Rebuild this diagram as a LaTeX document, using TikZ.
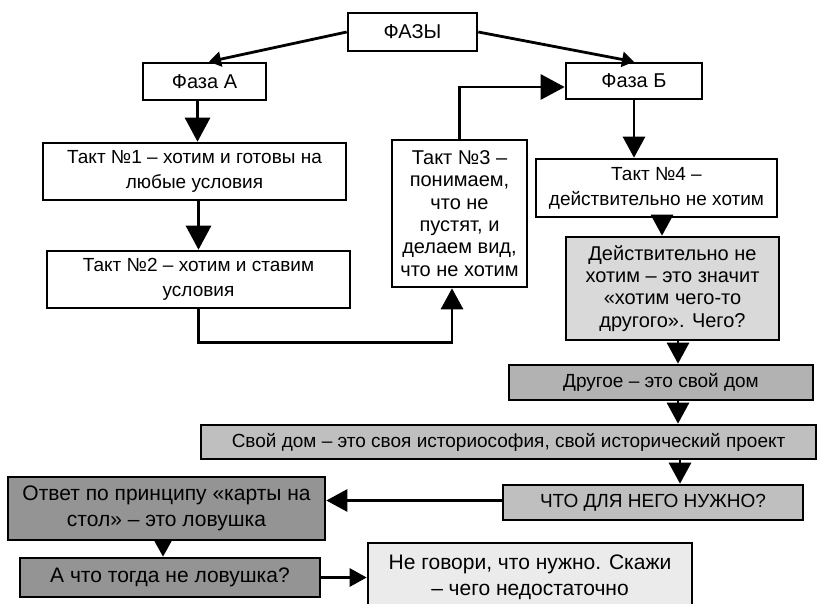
\documentclass[tikz,border=0pt]{standalone}
\usepackage{fontspec}
\setmainfont{Liberation Sans}
\usetikzlibrary{arrows.meta,calc}

\begin{document}
\begin{tikzpicture}[x=1pt,y=-1pt,
  box/.style={draw,line width=2.6pt,align=center,inner sep=0pt,
    font=\fontsize{19}{25}\selectfont},
  tight/.style={font=\fontsize{20}{22.3}\selectfont},
  large/.style={font=\fontsize{21}{26}\selectfont},
  phase/.style={font=\fontsize{20}{24}\selectfont},
  link/.style={line width=2.8pt},
  headbig/.style={link,-{Triangle[width=25pt,length=24pt]}},
  headmid/.style={link,-{Triangle[width=22pt,length=21pt]}},
  headsmall/.style={link,-{Triangle[width=18pt,length=17pt]}},
  headtiny/.style={link,-{Triangle[width=15pt,length=12pt]}},
]
\useasboundingbox (0,0) rectangle (818,604);

% phases
\node[box,phase,fill=white,minimum width=129pt,minimum height=38pt] (fazy) at (412.5,32) {ФАЗЫ};
\node[box,phase,fill=white,minimum width=123pt,minimum height=37pt] (fazaA) at (204.5,81.5) {Фаза А};
\node[box,phase,fill=white,minimum width=136pt,minimum height=36pt] (fazaB) at (634,81) {Фаза Б};

% stages
\node[box,fill=white,minimum width=303pt,minimum height=57pt] (takt1) at (194.5,171.5)
  {Такт №1 – хотим и готовы на\\любые условия};
\node[box,fill=white,minimum width=303pt,minimum height=57pt] (takt2) at (198.5,279.5)
  {Такт №2 – хотим и ставим\\условия};
\node[box,tight,fill=white,minimum width=135pt,minimum height=147pt] (takt3) at (459.5,213.5)
  {Такт №3 –\\понимаем,\\что не\\пустят, и\\делаем вид,\\что не хотим};
\node[box,fill=white,minimum width=241pt,minimum height=58pt] (takt4) at (656.5,188)
  {Такт №4 –\\действительно не хотим};

% chain below stage 4
\node[box,tight,fill=black!15,minimum width=213pt,minimum height=103pt] (deistv) at (672.5,288.5)
  {Действительно не\\хотим – это значит\\«хотим чего-то\\другого». Чего?};
\node[box,fill=black!30,minimum width=304pt,minimum height=35pt] (drugoe) at (661,382.5)
  {Другое – это свой дом};
\node[box,fill=black!25,minimum width=615pt,minimum height=34pt] (svoidom) at (508.5,442)
  {Свой дом – это своя историософия, свой исторический проект};
\node[box,fill=black!25,minimum width=300pt,minimum height=35pt] (chto) at (653,502.5)
  {ЧТО ДЛЯ НЕГО НУЖНО?};
\node[box,large,fill=black!42,minimum width=317pt,minimum height=63pt] (otvet) at (166.5,508.5)
  {Ответ по принципу «карты на\\стол» – это ловушка};
\node[box,large,fill=black!42,minimum width=300pt,minimum height=39pt] (achto) at (170,577.5)
  {А что тогда не ловушка?};
\node[box,large,fill=black!8,minimum width=324pt,minimum height=69pt] (negovori) at (530,577.5)
  {Не говори, что нужно. Скажи\\– чего недостаточно};

% connectors
\draw[headtiny] (fazy.west) -- ([xshift=4.5pt]fazaA.north);
\draw[headtiny] (fazy.east) -- (fazaB.north);
\draw[headbig] ([xshift=-7pt]fazaA.south) -- ([xshift=-7pt]fazaA.south |- takt1.north);
\draw[headbig] (takt2.north |- takt1.south) -- (takt2.north);
\draw[headmid] (takt2.south) -- ++(0,33) -| ([xshift=-7.5pt]takt3.south);
\draw[headbig] (takt3.north) |- ([yshift=-6pt]fazaB.west);
\draw[headmid] (fazaB.south) -- (fazaB.south |- takt4.north);
\draw[headmid] ([xshift=5.5pt]takt4.south) -- ([xshift=5.5pt]takt4.south |- deistv.north);
\draw[headmid] ([xshift=5.5pt]deistv.south) -- ([xshift=5.5pt]deistv.south |- drugoe.north);
\draw[headmid] ([xshift=17pt]drugoe.south) -- ([xshift=17pt]drugoe.south |- svoidom.north);
\draw[headmid] ([xshift=27pt]chto.north |- svoidom.south) -- ([xshift=27pt]chto.north);
\draw[headmid] ([yshift=2pt]chto.west) -- ([yshift=2pt]chto.west -| otvet.east);
\draw[headsmall] ([xshift=-3.5pt]otvet.south) -- ([xshift=-3.5pt]otvet.south |- achto.north);
\draw[headsmall] (achto.east) -- (negovori.west);
\end{tikzpicture}
\end{document}
